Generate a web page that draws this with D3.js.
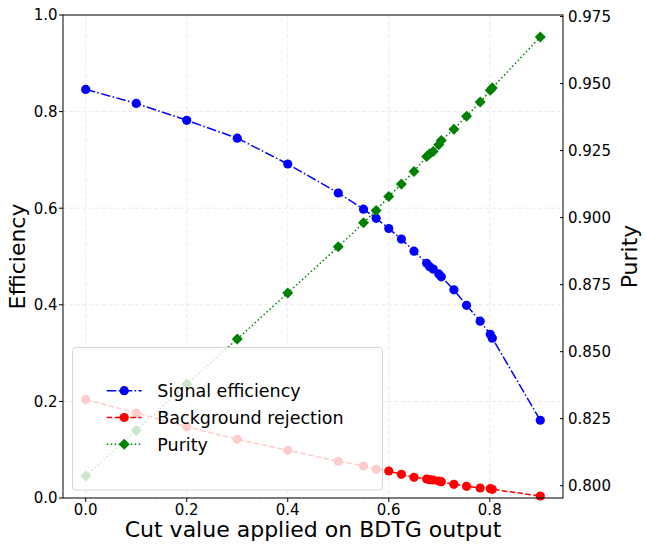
<!DOCTYPE html>
<html>
<head>
<meta charset="utf-8">
<script src="https://cdn.jsdelivr.net/npm/d3@7"></script>
<style>
  body { margin: 0; background: #fff; }
  text { font-family: "DejaVu Sans", sans-serif; fill: #000; }
</style>
</head>
<body>
<div id="chart"></div>
<script>
// cut values on the BDTG output
var cuts = [0, 0.1, 0.2, 0.3, 0.4, 0.5, 0.55, 0.575, 0.6, 0.625, 0.65, 0.675, 0.681, 0.688,
            0.699, 0.704, 0.729, 0.754, 0.781, 0.801, 0.805, 0.9];
var signalEff = [0.846, 0.817, 0.782, 0.745, 0.6915, 0.6315, 0.598, 0.579, 0.558, 0.536, 0.511,
                 0.486, 0.479, 0.474, 0.464, 0.458, 0.431, 0.399, 0.366, 0.339, 0.331, 0.161];
var bkgRej = [0.204, 0.176, 0.1476, 0.1215, 0.0988, 0.076, 0.0663, 0.0594, 0.0559, 0.0491, 0.0429,
              0.0393, 0.0379, 0.0373, 0.0352, 0.0338, 0.0284, 0.0242, 0.0207, 0.0193, 0.018, 0.0041];
var purity = [0.8036, 0.8206, 0.8379, 0.8547, 0.8719, 0.8891, 0.8981, 0.9027, 0.9079, 0.9125, 0.9172,
              0.9228, 0.9238, 0.9247, 0.9272, 0.9288, 0.933, 0.9378, 0.9431, 0.9475, 0.9484, 0.9674];
var xTicks = [0, 0.2, 0.4, 0.6, 0.8];
var effTicks = [0, 0.2, 0.4, 0.6, 0.8, 1.0];
var purTicks = [0.800, 0.825, 0.850, 0.875, 0.900, 0.925, 0.950, 0.975];
var legendLabels = ['Signal efficiency', 'Background rejection', 'Purity'];

(function() {
  var width = 646, height = 548;
  var pLeft = 63, pRight = 563, pTop = 15, pBottom = 498;

  var svg = d3.select('#chart').append('svg')
    .attr('width', width).attr('height', height);

  // matplotlib style 5% margins
  var xExt = d3.extent(cuts), xPad = (xExt[1] - xExt[0]) * 0.05;
  var x = d3.scaleLinear().domain([xExt[0] - xPad, xExt[1] + xPad]).range([pLeft, pRight]);
  var y = d3.scaleLinear().domain([0, 1]).range([pBottom, pTop]);
  var pExt = d3.extent(purity), pPad = (pExt[1] - pExt[0]) * 0.05;
  var y2 = d3.scaleLinear().domain([pExt[0] - pPad, pExt[1] + pPad]).range([pBottom, pTop]);

  // grid
  var grid = svg.append('g').attr('stroke', '#b0b0b0').attr('stroke-opacity', 0.28)
    .attr('stroke-dasharray', '4,2.5').attr('stroke-width', 1);
  grid.selectAll('.gx').data(xTicks).enter().append('line')
    .attr('x1', function(d) { return x(d); }).attr('x2', function(d) { return x(d); })
    .attr('y1', pTop).attr('y2', pBottom);
  grid.selectAll('.gy').data(effTicks).enter().append('line')
    .attr('y1', function(d) { return y(d); }).attr('y2', function(d) { return y(d); })
    .attr('x1', pLeft).attr('x2', pRight);

  var series = [
    { vals: signalEff, scale: y, color: '#0000ff', dash: '9.6,2.4,1.5,2.4', marker: 'circle' },
    { vals: bkgRej, scale: y, color: '#ff0000', dash: '5.5,2.4', marker: 'circle' },
    { vals: purity, scale: y2, color: '#008000', dash: '1.5,2.5', marker: 'diamond' }
  ];

  var sym = {
    circle: d3.symbol().type(d3.symbolCircle).size(Math.PI * 4.6 * 4.6),
    diamond: d3.symbol().type(d3.symbolSquare).size(7.8 * 7.8)
  };

  series.forEach(function(s) {
    var line = d3.line()
      .x(function(d, i) { return x(cuts[i]); })
      .y(function(d) { return s.scale(d); });
    svg.append('path').datum(s.vals)
      .attr('d', line).attr('fill', 'none')
      .attr('stroke', s.color).attr('stroke-width', 1.5)
      .attr('stroke-dasharray', s.dash);
    svg.selectAll(null).data(s.vals).enter().append('path')
      .attr('d', sym[s.marker])
      .attr('transform', function(d, i) {
        return 'translate(' + x(cuts[i]) + ',' + s.scale(d) + ')' +
          (s.marker === 'diamond' ? ' rotate(45)' : '');
      })
      .attr('fill', s.color);
  });

  // frame
  svg.append('rect').attr('x', pLeft).attr('y', pTop)
    .attr('width', pRight - pLeft).attr('height', pBottom - pTop)
    .attr('fill', 'none').attr('stroke', '#000').attr('stroke-width', 1);

  // x ticks
  var xt = svg.append('g');
  xt.selectAll('line').data(xTicks).enter().append('line')
    .attr('x1', function(d) { return x(d); }).attr('x2', function(d) { return x(d); })
    .attr('y1', pBottom).attr('y2', pBottom + 4).attr('stroke', '#000');
  xt.selectAll('text').data(xTicks).enter().append('text')
    .attr('x', function(d) { return x(d); }).attr('y', 515)
    .attr('text-anchor', 'middle').style('font-size', '15px')
    .text(d3.format('.1f'));

  // left ticks
  var yt = svg.append('g');
  yt.selectAll('line').data(effTicks).enter().append('line')
    .attr('y1', function(d) { return y(d); }).attr('y2', function(d) { return y(d); })
    .attr('x1', pLeft - 4).attr('x2', pLeft).attr('stroke', '#000');
  yt.selectAll('text').data(effTicks).enter().append('text')
    .attr('x', 57.5).attr('y', function(d) { return y(d); })
    .attr('dy', '0.36em').attr('text-anchor', 'end').style('font-size', '15px')
    .text(d3.format('.1f'));

  // right ticks
  var rt = svg.append('g');
  rt.selectAll('line').data(purTicks).enter().append('line')
    .attr('y1', function(d) { return y2(d); }).attr('y2', function(d) { return y2(d); })
    .attr('x1', pRight - 3).attr('x2', pRight).attr('stroke', '#000');
  rt.selectAll('text').data(purTicks).enter().append('text')
    .attr('x', 568).attr('y', function(d) { return y2(d); })
    .attr('dy', '0.36em').style('font-size', '15px')
    .text(d3.format('.3f'));

  // axis labels
  svg.append('text').attr('x', (pLeft + pRight) / 2).attr('y', 536.5)
    .attr('text-anchor', 'middle').style('font-size', '22px')
    .text('Cut value applied on BDTG output');
  svg.append('text').attr('transform', 'translate(25,' + (pTop + pBottom) / 2 + ') rotate(-90)')
    .attr('text-anchor', 'middle').style('font-size', '22px').text('Efficiency');
  svg.append('text').attr('transform', 'translate(636.5,' + (pTop + pBottom) / 2 + ') rotate(-90)')
    .attr('text-anchor', 'middle').style('font-size', '22px').text('Purity');

  // legend
  var lg = svg.append('g');
  lg.append('rect').attr('x', 72.5).attr('y', 347.5).attr('width', 310).attr('height', 142.5)
    .attr('rx', 3).attr('fill', '#fff').attr('fill-opacity', 0.8)
    .attr('stroke', '#cccccc').attr('stroke-opacity', 0.8);
  var rows = lg.selectAll('.legend').data(series).enter().append('g')
    .attr('transform', function(d, i) { return 'translate(0,' + (390.7 + i * 26.8) + ')'; });
  rows.append('line').attr('x1', 106.7).attr('x2', 141.7).attr('y1', 0).attr('y2', 0)
    .attr('stroke', function(d) { return d.color; }).attr('stroke-width', 1.5)
    .attr('stroke-dasharray', function(d) { return d.dash; });
  rows.append('path')
    .attr('d', function(d) { return sym[d.marker](); })
    .attr('transform', function(d) { return 'translate(124.2,0)' + (d.marker === 'diamond' ? ' rotate(45)' : ''); })
    .attr('fill', function(d) { return d.color; });
  rows.append('text').attr('x', 157.3).attr('dy', '0.36em')
    .style('font-size', '17.5px')
    .text(function(d, i) { return legendLabels[i]; });
})();
</script>
</body>
</html>
